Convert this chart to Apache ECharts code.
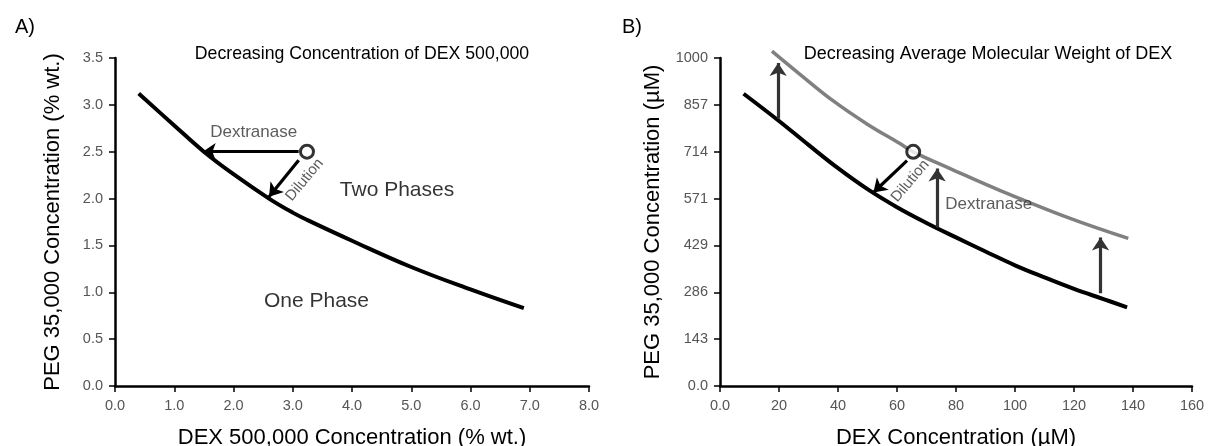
<!DOCTYPE html>
<html><head><meta charset="utf-8">
<script src="https://cdn.jsdelivr.net/npm/echarts@6/dist/echarts.min.js"></script>
<style>html,body{margin:0;padding:0;background:#fff}#c{width:1209px;height:446px}</style>
</head><body><div id="c"></div>
<script>
// ---- Panel A data ----
const curveA_x = [0.4, 1.0, 1.5, 2.0, 2.6, 3.0, 3.25, 4.0, 5.0, 6.0, 6.9];
const curveA_y = [3.12, 2.78, 2.5, 2.26, 2.0, 1.85, 1.77, 1.55, 1.27, 1.03, 0.83];
const circleA = [3.24, 2.5];
const arrowDextranaseA = [[3.1, 2.5], [1.48, 2.5]];
const arrowDilutionA = [[3.1, 2.41], [2.6, 2.02]];
const xTicksA = ['0.0','1.0','2.0','3.0','4.0','5.0','6.0','7.0','8.0'];
const yTicksA = ['0.0','0.5','1.0','1.5','2.0','2.5','3.0','3.5'];

// ---- Panel B data ----
const blackB_x = [8, 20, 30, 40, 50, 60, 70, 80, 90, 100, 110, 120, 130, 138];
const blackB_y = [891, 808, 735, 664, 600, 545, 497, 453, 410, 368, 331, 296, 265, 240];
const grayB_x = [17.6, 27, 38.4, 49.8, 61, 65.5, 78, 95, 118.7, 138.4];
const grayB_y = [1021, 951, 869, 799, 739, 714, 663, 596, 511, 450];
const circleB = [65.5, 714];
const arrowsUpB = [[[19.7, 815], [19.7, 985]], [[73.6, 483], [73.6, 663]], [[129, 283], [129, 453]]];
const arrowDilutionB = [[63.4, 687], [52, 590]];
const xTicksB = ['0.0','20','40','60','80','100','120','140','160'];
const yTicksB = ['0.0','143','286','429','571','714','857','1000'];

// ---- annotation texts (data coords) ----
const annA = [
  {text:'Dextranase', pos:[2.34, 2.71]},
  {text:'Dilution', pos:[3.2, 2.2], rot:true},
  {text:'Two Phases', pos:[4.76, 2.09], big:true},
  {text:'One Phase', pos:[3.4, 0.9], big:true}
];
const annB = [
  {text:'Dextranase', pos:[91.1, 553]},
  {text:'Dilution', pos:[64.5, 625], rot:true}
];

const FONT = 'Liberation Sans, Arial, sans-serif';
const zip = (a, b) => a.map((v, i) => [v, b[i]]);

function axisBase(gi, max, interval, ticks, name) {
  return {
    type: 'value', gridIndex: gi, min: 0, max: max, interval: interval,
    name: name, nameLocation: 'middle',
    nameTextStyle: {fontFamily: FONT, fontSize: 22, color: '#000'},
    axisLine: {show: true, onZero: false, lineStyle: {color: '#000', width: 2.5}},
    axisTick: {show: true, length: 6, lineStyle: {color: '#000', width: 1.5}},
    axisLabel: {fontFamily: FONT, fontSize: 14.5, color: '#555', margin: 12,
      formatter: v => ticks[Math.round(v / interval)]},
    splitLine: {show: false}
  };
}
function xAxis(gi, max, interval, ticks, name) {
  const a = axisBase(gi, max, interval, ticks, name);
  a.nameGap = 41;
  return a;
}
function yAxis(gi, max, interval, ticks, name, gap) {
  const a = axisBase(gi, max, interval, ticks, name);
  a.nameGap = gap; a.nameRotate = 90;
  return a;
}
function arrowSeries(gi, segs, color) {
  return {
    type: 'lines', coordinateSystem: 'cartesian2d', xAxisIndex: gi, yAxisIndex: gi,
    symbol: ['none', 'arrow'], symbolSize: 13, silent: true, z: 5,
    lineStyle: {color: color, width: 3.2, opacity: 1},
    data: segs.map(s => ({coords: s}))
  };
}
function annSeries(gi, anns) {
  return {
    type: 'scatter', xAxisIndex: gi, yAxisIndex: gi, symbolSize: 0, silent: true, z: 6,
    data: anns.map(a => ({
      value: a.pos,
      label: {show: true, position: 'inside', formatter: a.text,
        fontFamily: FONT, fontSize: a.big ? 21 : (a.rot ? 15 : 17), color: a.big ? '#000' : '#333',
        rotate: a.rot ? 50 : 0}
    }))
  };
}

const chart = echarts.init(document.getElementById('c'), null, {renderer: 'canvas'});
chart.setOption({
  animation: false,
  backgroundColor: '#fff',
  title: [
    {text: 'A)', left: 10, top: 12, textStyle: {fontFamily: FONT, fontSize: 20, fontWeight: 'normal', color: '#000'}},
    {text: 'B)', left: 617, top: 12, textStyle: {fontFamily: FONT, fontSize: 20, fontWeight: 'normal', color: '#000'}},
    {text: 'Decreasing Concentration of DEX 500,000', left: 357, top: 40, textAlign: 'center',
      textStyle: {fontFamily: FONT, fontSize: 17.7, fontWeight: 'normal', color: '#000'}},
    {text: 'Decreasing Average Molecular Weight of DEX', left: 983, top: 40, textAlign: 'center',
      textStyle: {fontFamily: FONT, fontSize: 18, fontWeight: 'normal', color: '#000'}}
  ],
  grid: [
    {left: 115, right: 620, top: 58, bottom: 60, outerBoundsMode: 'none', containLabel: false},
    {left: 720, right: 17, top: 58, bottom: 60, outerBoundsMode: 'none', containLabel: false}
  ],
  xAxis: [
    xAxis(0, 8, 1, xTicksA, 'DEX 500,000 Concentration (% wt.)'),
    xAxis(1, 160, 20, xTicksB, 'DEX Concentration (\u00b5M)')
  ],
  yAxis: [
    yAxis(0, 3.5, 0.5, yTicksA, 'PEG 35,000 Concentration (% wt.)', 51),
    yAxis(1, 1000, 1000 / 7, yTicksB, 'PEG 35,000 Concentration (\u00b5M)', 56)
  ],
  series: [
    {type: 'line', xAxisIndex: 0, yAxisIndex: 0, smooth: 0.4, showSymbol: false, symbol: 'none', clip: false,
      lineStyle: {color: '#000', width: 4}, data: zip(curveA_x, curveA_y)},
    arrowSeries(0, [arrowDextranaseA, arrowDilutionA], '#000'),
    {type: 'scatter', xAxisIndex: 0, yAxisIndex: 0, symbol: 'circle', symbolSize: 13, z: 7,
      itemStyle: {color: '#fff', borderColor: '#000', borderWidth: 3}, data: [circleA]},
    annSeries(0, annA),

    {type: 'line', xAxisIndex: 1, yAxisIndex: 1, smooth: 0.4, showSymbol: false, symbol: 'none', clip: false,
      lineStyle: {color: '#808080', width: 3.5}, data: zip(grayB_x, grayB_y)},
    {type: 'line', xAxisIndex: 1, yAxisIndex: 1, smooth: 0.4, showSymbol: false, symbol: 'none', clip: false,
      lineStyle: {color: '#000', width: 4}, data: zip(blackB_x, blackB_y)},
    arrowSeries(1, arrowsUpB, '#333'),
    arrowSeries(1, [arrowDilutionB], '#000'),
    {type: 'scatter', xAxisIndex: 1, yAxisIndex: 1, symbol: 'circle', symbolSize: 13, z: 7,
      itemStyle: {color: '#fff', borderColor: '#000', borderWidth: 3}, data: [circleB]},
    annSeries(1, annB)
  ]
});
</script></body></html>
